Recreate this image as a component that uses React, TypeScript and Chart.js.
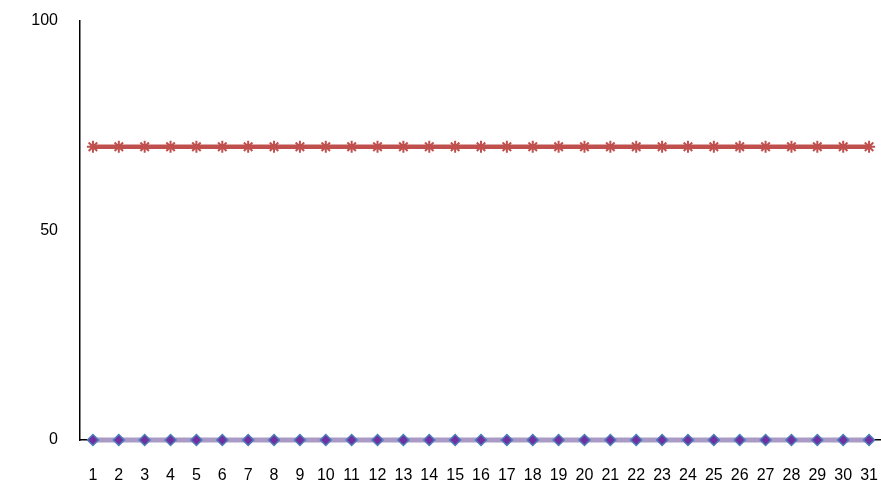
import React, { useEffect, useRef } from "react";
import { Chart, registerables } from "chart.js";

Chart.register(...registerables);

const categories: string[] = ["1","2","3","4","5","6","7","8","9","10","11","12","13","14","15","16","17","18","19","20","21","22","23","24","25","26","27","28","29","30","31"];
const seriesRed: number[] = [70,70,70,70,70,70,70,70,70,70,70,70,70,70,70,70,70,70,70,70,70,70,70,70,70,70,70,70,70,70,70];
const seriesPurple: number[] = [0,0,0,0,0,0,0,0,0,0,0,0,0,0,0,0,0,0,0,0,0,0,0,0,0,0,0,0,0,0,0];
const yTicks: number[] = [0, 50, 100];

export default function App() {
  const ref = useRef<HTMLCanvasElement>(null);
  useEffect(() => {
    if (!ref.current) return;
    const chart = new Chart(ref.current, {
      type: "line",
      data: {
        labels: categories,
        datasets: [
          {
            label: "A",
            data: seriesPurple,
            borderColor: "#A99BC6",
            borderWidth: 5,
            pointStyle: "rectRot",
            pointRadius: 5.5,
            pointBackgroundColor: "#7030A0",
            pointBorderColor: "#4A7EBB",
            pointBorderWidth: 1.5,
            clip: false as any,
          },
          {
            label: "B",
            data: seriesRed,
            borderColor: "#C0504D",
            borderWidth: 4.5,
            pointStyle: "star",
            pointRadius: 6,
            pointBackgroundColor: "#C0504D",
            pointBorderColor: "#C0504D",
            pointBorderWidth: 2,
            clip: false as any,
          },
        ],
      },
      options: {
        animation: false,
        responsive: false,
        maintainAspectRatio: false,
        layout: { padding: { top: 21, left: 0, right: 0, bottom: 0 } },
        plugins: { legend: { display: false }, tooltip: { enabled: false } },
        scales: {
          x: {
            offset: true,
            grid: { display: false, drawTicks: false },
            border: { color: "#000", width: 1.5 },
            ticks: {
              color: "#000",
              font: { family: "Liberation Sans, Arial", size: 16 },
              padding: 26,
              maxRotation: 0,
              autoSkip: false,
            },
            afterFit: (s: any) => {
              s.height = 47;
              s.paddingLeft = 0;
              s.paddingRight = 0;
            },
          },
          y: {
            min: 0,
            max: 100,
            afterBuildTicks: (s: any) => { s.ticks = yTicks.map((v) => ({ value: v })); },
            grid: { display: false, drawTicks: false },
            border: { color: "#000", width: 1.5 },
            ticks: {
              color: "#000",
              font: { family: "Liberation Sans, Arial", size: 16 },
              padding: 22,
            },
            afterFit: (s: any) => {
              s.width = 80;
              s.paddingTop = 0;
              s.paddingBottom = 0;
            },
          },
        },
      },
    });
    return () => chart.destroy();
  }, []);
  return (
    <div style={{ position: "fixed", left: 0, top: 0, width: 881, height: 487, background: "#fff", overflow: "hidden" }}>
      <canvas ref={ref} width={890} height={487} style={{ width: 890, height: 487 }} />
    </div>
  );
}
